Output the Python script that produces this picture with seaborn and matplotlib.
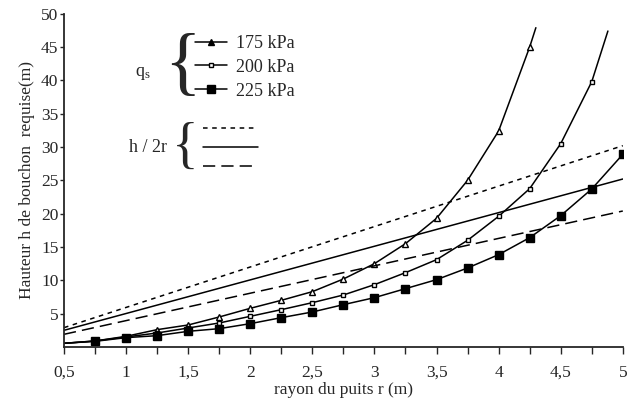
import matplotlib
matplotlib.use('Agg')
import matplotlib.pyplot as plt
from matplotlib.lines import Line2D
from matplotlib.ticker import MultipleLocator, FuncFormatter
import pandas as pd
import seaborn as sns

# ── Données ───────────────────────────────────────────────────────────────────
r_175 = [0.5, 0.75, 1.0, 1.25, 1.5, 1.75, 2.0, 2.25, 2.5, 2.75, 3.0, 3.25,
         3.5, 3.75, 4.0, 4.25, 4.3]
h_175 = [0.55, 0.9, 1.6, 2.6, 3.3, 4.5, 5.8, 7.0, 8.3, 10.2, 12.5, 15.5,
         19.3, 25.0, 32.4, 45.0, 47.9]

r_200 = [0.5, 0.75, 1.0, 1.25, 1.5, 1.75, 2.0, 2.25, 2.5, 2.75, 3.0, 3.25,
         3.5, 3.75, 4.0, 4.25, 4.5, 4.75, 4.88]
h_200 = [0.55, 0.9, 1.5, 2.1, 2.85, 3.6, 4.6, 5.6, 6.65, 7.8, 9.35, 11.15,
         13.1, 16.0, 19.6, 23.75, 30.5, 39.8, 47.4]

r_225 = [0.5, 0.75, 1.0, 1.25, 1.5, 1.75, 2.0, 2.25, 2.5, 2.75, 3.0, 3.25,
         3.5, 3.75, 4.0, 4.25, 4.5, 4.75, 5.0]
h_225 = [0.55, 0.85, 1.4, 1.7, 2.35, 2.75, 3.5, 4.4, 5.25, 6.35, 7.4, 8.75,
         10.1, 11.85, 13.85, 16.4, 19.7, 23.7, 28.9]

# droites h / 2r = 3 ; 2,5 ; 2
r_ratio = [0.5, 5.0]
h_ratio_3 = [2.9, 30.2]
h_ratio_25 = [2.5, 25.2]
h_ratio_2 = [1.9, 20.4]

QS_LABELS = ['175 kPa', '200 kPa', '225 kPa']
X_TICKS = [0.5, 1, 1.5, 2, 2.5, 3, 3.5, 4, 4.5, 5]
Y_TICKS = [5, 10, 15, 20, 25, 30, 35, 40, 45, 50]

# ── Style ─────────────────────────────────────────────────────────────────────
sns.set_style('ticks')
plt.rcParams['font.family'] = ['Liberation Serif', 'DejaVu Serif']
plt.rcParams['mathtext.fontset'] = 'custom'
plt.rcParams['mathtext.rm'] = 'Liberation Serif'
plt.rcParams['mathtext.it'] = 'Liberation Serif'

fig = plt.figure(figsize=(6.31, 4.03), dpi=100)
ax = fig.add_axes([0.1014, 0.139, 0.8856, 0.827])

# courbes q_s
series = [
    (r_175, h_175, '^', 4, 'white', list(range(3, len(r_175) - 1))),
    (r_200, h_200, 's', 3.5, 'white', list(range(3, len(r_200) - 1))),
    (r_225, h_225, 's', 6, 'black', list(range(1, len(r_225)))),
]
for r, h, mk, ms, mfc, every in series:
    df = pd.DataFrame({'r': r, 'h': h})
    sns.lineplot(data=df, x='r', y='h', ax=ax, color='black', linewidth=1.1,
                 sort=False, estimator=None, marker=mk, markersize=ms,
                 markerfacecolor=mfc, markeredgecolor='black',
                 markeredgewidth=1.0, markevery=every)

# droites h / 2r
ratio_styles = [(h_ratio_3, (3, 3)), (h_ratio_25, ()), (h_ratio_2, (8, 4))]
for h, dash in ratio_styles:
    df = pd.DataFrame({'r': r_ratio, 'h': h})
    line = sns.lineplot(data=df, x='r', y='h', ax=ax, color='black',
                        linewidth=1.1, estimator=None).lines[-1]
    if dash:
        line.set_dashes(dash)

# ── Axes ──────────────────────────────────────────────────────────────────────
ax.set_xlim(0.5, 5.0)
ax.set_ylim(0, 50)
ax.set_xticks(X_TICKS)
ax.xaxis.set_minor_locator(MultipleLocator(0.25))
ax.set_yticks(Y_TICKS)
ax.xaxis.set_major_formatter(FuncFormatter(lambda v, p: f'{v:g}'.replace('.', ',')))
ax.tick_params(axis='x', which='both', direction='out', length=5, width=1,
               labelsize=12.5, pad=8)
ax.tick_params(axis='y', direction='out', length=3, width=1, labelsize=12.5, pad=1)
for side in ['left', 'bottom']:
    ax.spines[side].set_linewidth(1.3)
sns.despine(ax=ax)

ax.set_xlabel('rayon du puits r (m)', fontsize=12.5, labelpad=1)
ax.set_ylabel('Hauteur h de bouchon  requise(m)', fontsize=12.5, labelpad=4)

# ── Légendes ──────────────────────────────────────────────────────────────────
qs_handles = [
    Line2D([], [], color='black', lw=1.1, marker='^', ms=4, mfc='black'),
    Line2D([], [], color='black', lw=1.1, marker='s', ms=3.5, mfc='white'),
    Line2D([], [], color='black', lw=1.1, marker='s', ms=6, mfc='black'),
]
leg1 = ax.legend(qs_handles, QS_LABELS, loc='upper left',
                 bbox_to_anchor=(0.2214, 0.958), frameon=False, fontsize=13,
                 handlelength=1.75, handletextpad=0.55, labelspacing=0.38,
                 borderaxespad=0)
ax.add_artist(leg1)

ratio_handles = [
    Line2D([], [], color='black', lw=1.1, dashes=(3, 3)),
    Line2D([], [], color='black', lw=1.1),
    Line2D([], [], color='black', lw=1.1, dashes=(8, 4)),
]
ax.legend(ratio_handles, [' ', ' ', ' '], loc='upper left',
          bbox_to_anchor=(0.236, 0.695), frameon=False, fontsize=12,
          handlelength=3.3, handletextpad=0, labelspacing=0.16,
          borderaxespad=0)

fig.text(143 / 631, 1 - 73 / 403, r'q$_\mathrm{s}$', fontsize=13,
         ha='center', va='center')
fig.text(182 / 631, 1 - 67.5 / 403, '{', fontsize=55, ha='center', va='center')
fig.text(148 / 631, 1 - 147 / 403, 'h / 2r', fontsize=13, ha='center', va='center')
fig.text(185 / 631, 1 - 148.5 / 403, '{', fontsize=40, ha='center', va='center')

fig.savefig('out.png', dpi=100)
